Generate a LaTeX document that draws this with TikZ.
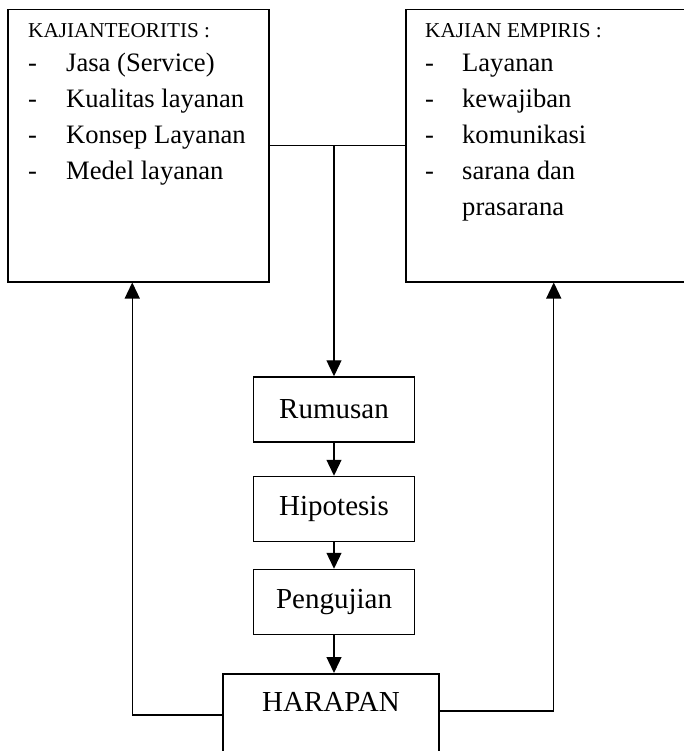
\documentclass[tikz,border=0pt]{standalone}
\usepackage{fontspec}
\setmainfont{Liberation Serif}
\usetikzlibrary{positioning,arrows.meta}
\newcommand{\headfont}{\fontsize{21.2}{25}\selectfont}
\newcommand{\listfont}{\fontsize{26.6}{36}\selectfont}
\newcommand{\boxfont}{\fontsize{29}{34}\selectfont}
\tikzset{
  kajian/.style={draw, line width=1.5pt, minimum width=#1, minimum height=272pt, anchor=north west},
  langkah/.style={draw, line width=1.5pt, minimum width=161pt, minimum height=65pt, font=\boxfont},
  panah/.style={line width=1.3pt, -{Triangle[length=16pt,width=15pt]}}
}
\begin{document}
\begin{tikzpicture}[x=1pt,y=1pt]
  \useasboundingbox (0,0) rectangle (683,-751);
  \node[kajian=261pt] (teori) at (7,-9) {};
  \node[kajian=290pt] (empiris) at (405,-9) {};
  \node[anchor=base west, inner sep=0, font=\headfont] (teorihead) at ([shift={(21,-29)}]teori.north west) {KAJIANTEORITIS :};
  \node[anchor=base west, inner sep=0, font=\listfont] (teorilist) at ([shift={(21,-63)}]teori.north west)
    {\begin{tabular}[t]{@{}p{38pt}@{}l@{}}
      - & Jasa (Service)\\
      - & Kualitas layanan\\
      - & Konsep Layanan\\
      - & Medel layanan
    \end{tabular}};
  \node[anchor=base west, inner sep=0, font=\headfont] (empirishead) at ([shift={(20,-29)}]empiris.north west) {KAJIAN EMPIRIS :};
  \node[anchor=base west, inner sep=0, font=\listfont] (empirislist) at ([shift={(20,-63)}]empiris.north west)
    {\begin{tabular}[t]{@{}p{37pt}@{}l@{}}
      - & Layanan\\
      - & kewajiban\\
      - & komunikasi\\
      - & sarana dan\\
        & prasarana
    \end{tabular}};
  \node[langkah] (rumusan) at (334,-409.5) {Rumusan};
  \node[langkah, on grid, below=99.5pt of rumusan] (hipotesis) {Hipotesis};
  \node[langkah, on grid, below=93pt of hipotesis] (pengujian) {Pengujian};
  \node[draw, line width=1.5pt, minimum width=216pt, inner ysep=19pt, text depth=80pt, font=\boxfont, anchor=north] (harapan) at (331,-673) {HARAPAN};
  \coordinate (cabang) at (teori.east -| rumusan.north);
  \coordinate (hkiri) at ([yshift=-42pt]harapan.north west);
  \coordinate (hkanan) at ([yshift=-38pt]harapan.north east);
  \draw[line width=1.3pt] (teori.east) -- (empiris.west);
  \draw[panah] (cabang) -- (rumusan.north);
  \draw[panah] (rumusan) -- (hipotesis);
  \draw[panah] (hipotesis) -- (pengujian);
  \draw[panah] (pengujian.south) -- (pengujian.south |- harapan.north);
  \draw[panah] (hkiri) -| ([xshift=-6pt]teori.south);
  \draw[panah] (hkanan) -| ([xshift=3pt]empiris.south);
\end{tikzpicture}
\end{document}
